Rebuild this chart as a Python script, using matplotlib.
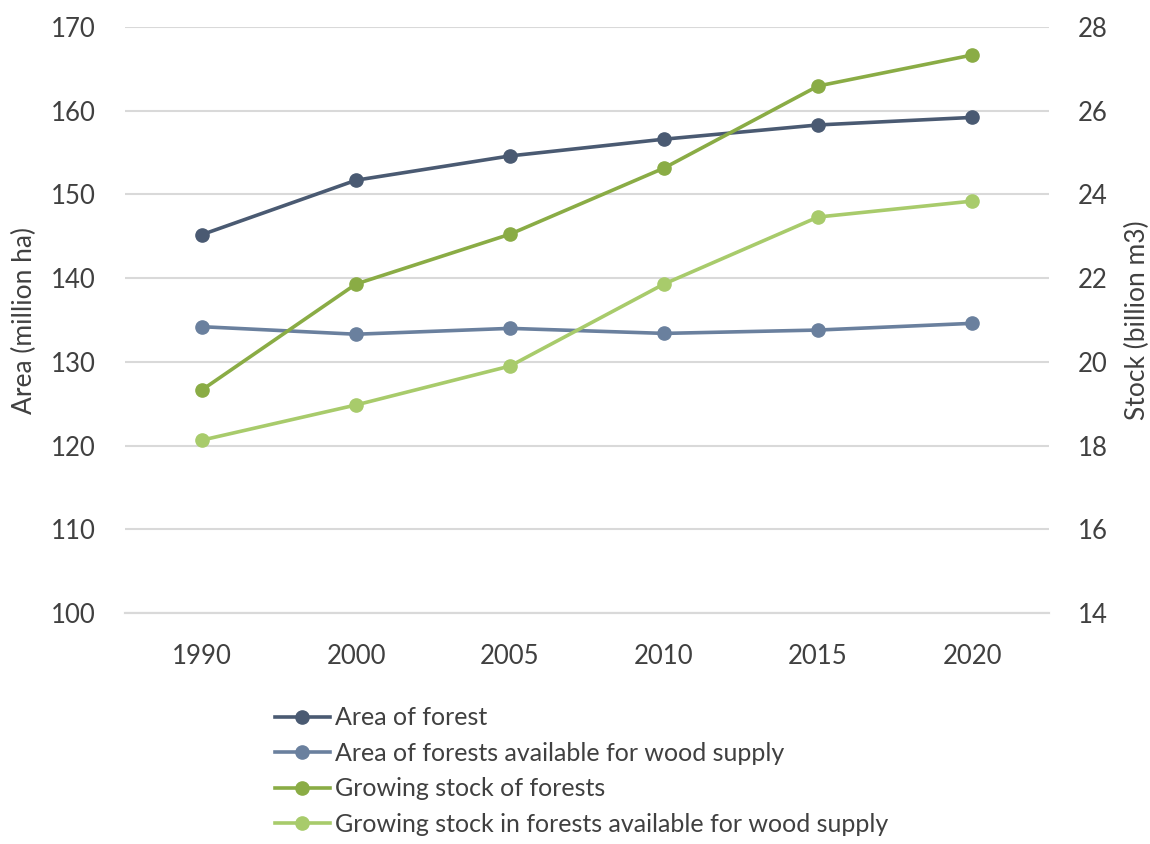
import matplotlib
matplotlib.use("Agg")
import matplotlib.pyplot as plt

# years and series
years = ["1990", "2000", "2005", "2010", "2015", "2020"]
area_forest = [145.2, 151.7, 154.6, 156.6, 158.3, 159.2]
area_available = [134.2, 133.3, 134.0, 133.4, 133.8, 134.6]
stock_forest = [19.33, 21.86, 23.05, 24.63, 26.59, 27.33]
stock_available = [18.13, 18.97, 19.90, 21.86, 23.46, 23.84]

labels = [
    "Area of forest",
    "Area of forests available for wood supply",
    "Growing stock of forests",
    "Growing stock in forests available for wood supply",
]
colors = ["#4a5a72", "#6a809e", "#8aac45", "#a8cb6b"]

plt.rcParams["font.family"] = ["Lato", "DejaVu Sans"]
text_col = "#404040"
grid_col = "#d9d9d9"

fig = plt.figure(figsize=(11.5, 8.44), dpi=100)
ax = fig.add_axes([0.1087, 0.2737, 0.8035, 0.6943])
ax2 = ax.twinx()

x = list(range(len(years)))
lw, ms = 2.6, 9.5
h1, = ax.plot(x, area_forest, color=colors[0], lw=lw, marker="o", ms=ms, label=labels[0])
h2, = ax.plot(x, area_available, color=colors[1], lw=lw, marker="o", ms=ms, label=labels[1])
h3, = ax2.plot(x, stock_forest, color=colors[2], lw=lw, marker="o", ms=ms, label=labels[2])
h4, = ax2.plot(x, stock_available, color=colors[3], lw=lw, marker="o", ms=ms, label=labels[3])

ax.set_xlim(-0.5, len(years) - 0.5)
ax.set_ylim(100, 170)
ax.set_yticks(range(100, 171, 10))
ax2.set_ylim(14, 28)
ax2.set_yticks(range(14, 29, 2))
ax.set_xticks(x)
ax.set_xticklabels(years)

ax.grid(axis="y", color=grid_col, lw=1.5)
ax.set_axisbelow(True)
for a in (ax, ax2):
    for s in ("top", "left", "right"):
        a.spines[s].set_visible(False)
    a.spines["bottom"].set_color(grid_col)
    a.spines["bottom"].set_linewidth(1.5)
    a.tick_params(length=0, labelsize=18.5, labelcolor=text_col)
ax.tick_params(axis="y", pad=21)
ax2.tick_params(axis="y", pad=21)
ax.tick_params(axis="x", pad=22)

ax.set_ylabel("Area (million ha)", fontsize=19, color=text_col, labelpad=10)
ax2.set_ylabel("Stock (billion m3)", fontsize=19, color=text_col, labelpad=12)

# legend below the plot, one entry per row
fig.legend(handles=[h1, h2, h3, h4], loc="upper left",
           bbox_to_anchor=(0.239, 0.163), frameon=False, fontsize=18,
           labelcolor=text_col, handlelength=2.2, handletextpad=0.2,
           labelspacing=0.5, borderpad=0, borderaxespad=0)

fig.savefig("out.png", dpi=100)
